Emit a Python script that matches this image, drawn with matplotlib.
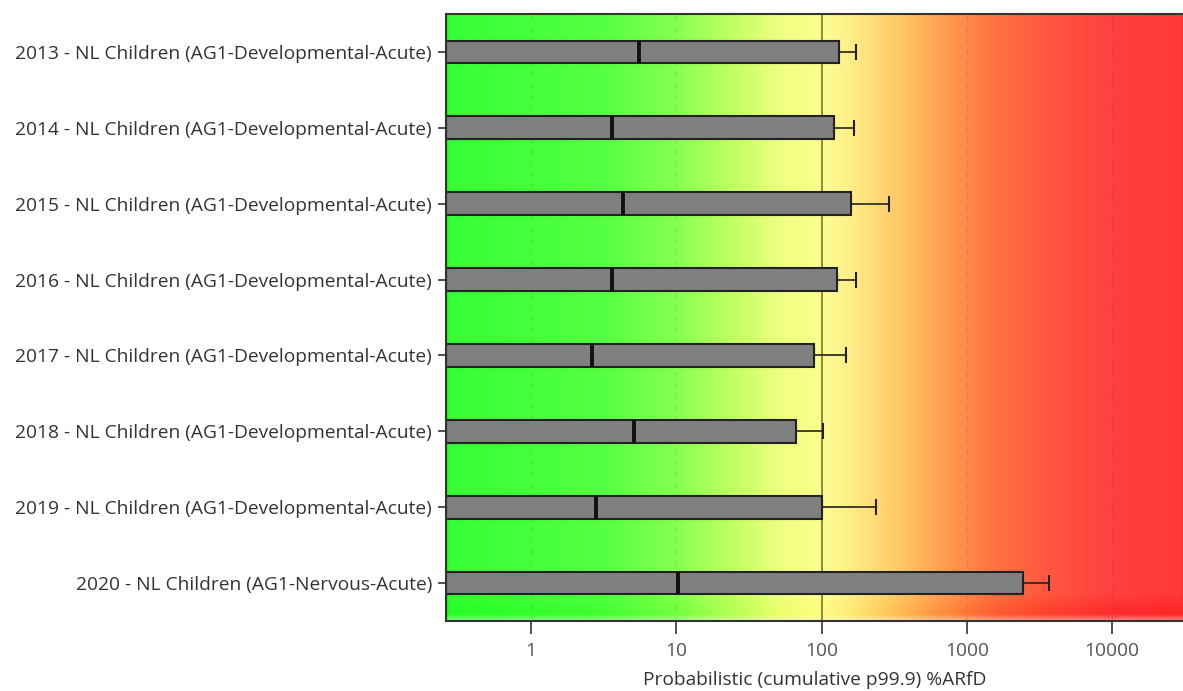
import numpy as np
import matplotlib
matplotlib.use("Agg")
import matplotlib.pyplot as plt
from matplotlib.colors import to_rgb

plt.rcParams['font.family'] = ['Open Sans', 'DejaVu Sans']

# Exposure results per survey year
labels = [
    "2013 - NL Children (AG1-Developmental-Acute)",
    "2014 - NL Children (AG1-Developmental-Acute)",
    "2015 - NL Children (AG1-Developmental-Acute)",
    "2016 - NL Children (AG1-Developmental-Acute)",
    "2017 - NL Children (AG1-Developmental-Acute)",
    "2018 - NL Children (AG1-Developmental-Acute)",
    "2019 - NL Children (AG1-Developmental-Acute)",
    "2020 - NL Children (AG1-Nervous-Acute)",
]
median = [5.5, 3.6, 4.3, 3.6, 2.65, 5.1, 2.8, 10.3]
p999 = [132, 122, 160, 128, 88, 67, 100, 2440]
p999_upper = [172, 166, 290, 172, 148, 102, 238, 3700]
xticks = [1, 10, 100, 1000, 10000]
xtick_labels = ["1", "10", "100", "1000", "10000"]

XMIN, XMAX = 0.26, 31000
FS = 13.8

fig = plt.figure(figsize=(11.83, 6.91), dpi=100)
ax = fig.add_axes([0.377, 0.1013, 0.6235, 0.8784])
ax.set_xscale('log')
ax.set_xlim(XMIN, XMAX)
ax.set_ylim(len(labels) - 0.5, -0.5)

# Risk-zone background: green -> yellow -> red along log10 of %ARfD
stops = [
    (-0.59, "#18f018"),
    (-0.56, "#36ff36"),
    (0.0, "#46ff3e"),
    (0.475, "#55ff44"),
    (1.0, "#85ff52"),
    (1.16, "#a0ff58"),
    (1.44, "#c8ff66"),
    (1.71, "#eeff80"),
    (1.9, "#f8ff88"),
    (2.0, "#fdfe94"),
    (2.2, "#ffee88"),
    (2.5, "#ffcc6a"),
    (2.75, "#ffaa56"),
    (3.0, "#ff8a4a"),
    (3.2, "#ff7044"),
    (3.5, "#ff5a40"),
    (4.0, "#ff4040"),
    (4.5, "#ff3838"),
]
lo, hi = np.log10(XMIN), np.log10(XMAX)
frac = np.linspace(0, 1, 1400)
logs = lo + frac * (hi - lo)
sx = [s[0] for s in stops]
cols = np.array([to_rgb(s[1]) for s in stops])
rgb = np.stack([np.interp(logs, sx, cols[:, k]) for k in range(3)], axis=-1)
grad = np.tile(rgb[None, :, :], (400, 1, 1))
# slightly deeper tint and a thin light rim along the lower edge
yy = np.linspace(1, 0, 400)[:, None, None]
deep = np.clip((0.045 - yy) / 0.03, 0, 1)
grad = grad ** (1 + 0.25 * deep)
rim = np.clip((0.01 - yy) / 0.01, 0, 1) * 0.4
grad = grad * (1 - rim) + rim
ax.imshow(grad, extent=(0, 1, 0, 1), transform=ax.transAxes, aspect='auto',
          interpolation='bilinear', zorder=0)

# Gridlines
for t in xticks:
    if t == 100:
        ax.axvline(t, color="#7a7a2a", lw=1.2, zorder=1)
    else:
        ax.axvline(t, color=(0, 0, 0, 0.09), lw=1.0, ls=(0, (4, 4)), zorder=1)

y = np.arange(len(labels))
h = 0.3
widths = [p - XMIN for p in p999]
ax.barh(y, widths, left=XMIN, height=h, color="#808080", edgecolor="#222222",
        linewidth=1.5, zorder=3)
ax.errorbar(p999, y, xerr=[np.zeros(len(p999)), np.array(p999_upper) - np.array(p999)],
            fmt='none', ecolor="#222222", elinewidth=1.2, capsize=6, capthick=1.5, zorder=2)
for yi, m in zip(y, median):
    ax.plot([m, m], [yi - h / 2, yi + h / 2], color="#111111", lw=2.8, zorder=4,
            solid_capstyle='butt')

ax.set_yticks(y)
ax.set_yticklabels(labels, fontsize=FS, color="#333333")
ax.set_xticks(xticks)
ax.set_xticklabels(xtick_labels, fontsize=FS, color="#555555")
ax.xaxis.set_minor_locator(matplotlib.ticker.NullLocator())
ax.tick_params(axis='x', length=9, width=1.2, color="#333333", pad=6)
ax.tick_params(axis='y', length=6, width=1.2, color="#333333", pad=4)
ax.set_xlabel("Probabilistic (cumulative p99.9) %ARfD", fontsize=FS, color="#333333",
              labelpad=8)
for s in ax.spines.values():
    s.set_color("#333333")
    s.set_linewidth(1.5)
    s.set_zorder(5)

fig.savefig("out.png", dpi=100)
